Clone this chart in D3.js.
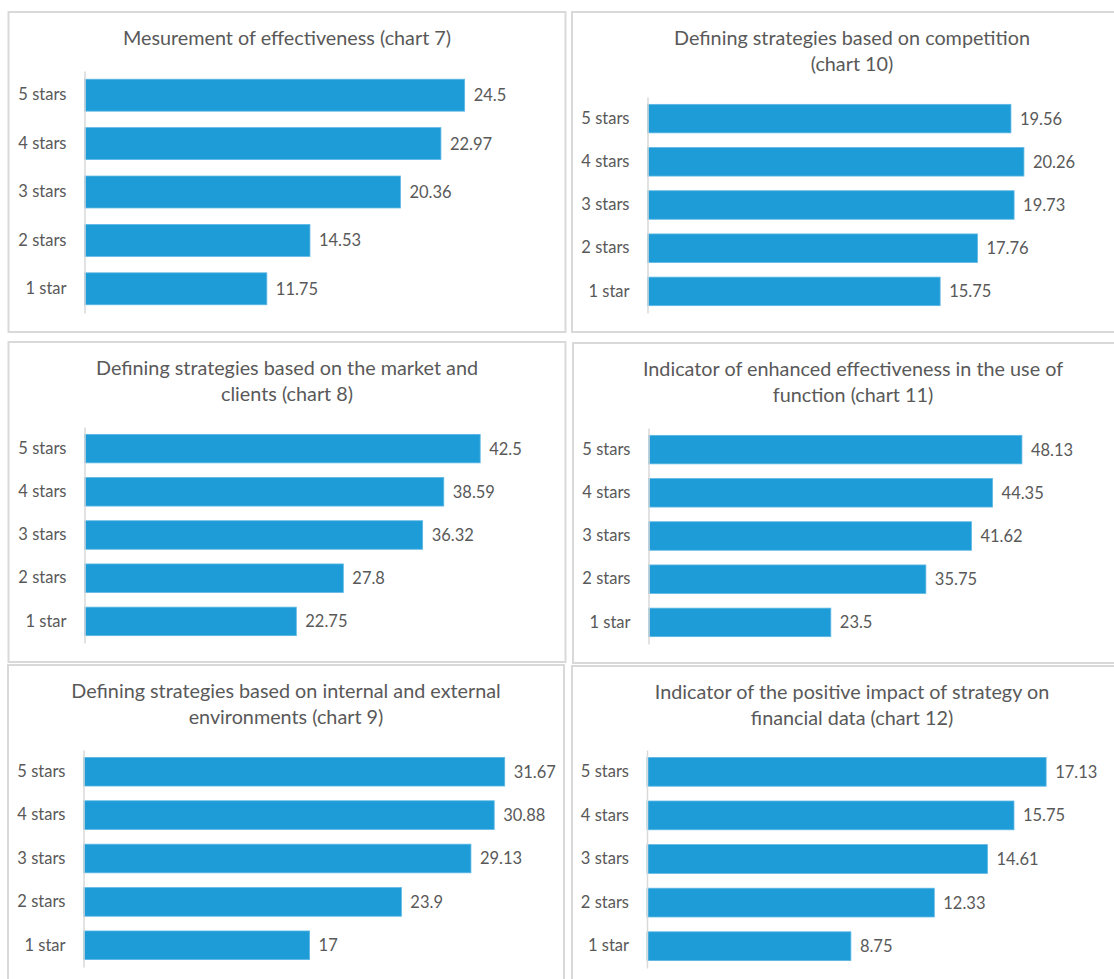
<!DOCTYPE html>
<html>
<head>
<meta charset="utf-8">
<script src="https://cdn.jsdelivr.net/npm/d3@7"></script>
<style>
  html, body { margin: 0; padding: 0; background: #ffffff; }
  svg { display: block; font-family: Lato, "Open Sans", sans-serif; }
</style>
</head>
<body>
<svg id="chart" width="1114" height="979"></svg>
<script>
// ---- data ----
const categories = ["5 stars", "4 stars", "3 stars", "2 stars", "1 star"];

const titleChart7  = ["Mesurement of effectiveness (chart 7)"];
const titleChart10 = ["Defining strategies based on competition", "(chart 10)"];
const titleChart8  = ["Defining strategies based on the market and", "clients (chart 8)"];
const titleChart11 = ["Indicator of enhanced effectiveness in the use of", "function (chart 11)"];
const titleChart9  = ["Defining strategies based on internal and external", "environments (chart 9)"];
const titleChart12 = ["Indicator of the positive impact of strategy on", "financial data (chart 12)"];

const valuesChart7  = [24.5, 22.97, 20.36, 14.53, 11.75];
const valuesChart10 = [19.56, 20.26, 19.73, 17.76, 15.75];
const valuesChart8  = [42.5, 38.59, 36.32, 27.8, 22.75];
const valuesChart11 = [48.13, 44.35, 41.62, 35.75, 23.5];
const valuesChart9  = [31.67, 30.88, 29.13, 23.9, 17];
const valuesChart12 = [17.13, 15.75, 14.61, 12.33, 8.75];

// hidden value-axis maxima (Excel auto scale)
const axisMaxima = [30, 25, 50, 60, 35, 20];

// ---- layout (kept apart from the data) ----
const panels = [
  { title: titleChart7,  values: valuesChart7,  max: axisMaxima[0], x: 8.5, y: 12,  w: 557, h: 320, axisX: 84.5,  plotRight: 550,  yTop: 71,  yBot: 313 },
  { title: titleChart10, values: valuesChart10, max: axisMaxima[1], x: 572, y: 12,  w: 560, h: 320, axisX: 647.5, plotRight: 1112, yTop: 97,  yBot: 313 },
  { title: titleChart8,  values: valuesChart8,  max: axisMaxima[2], x: 8.5, y: 342, w: 557, h: 320, axisX: 84.5,  plotRight: 550,  yTop: 427, yBot: 643 },
  { title: titleChart11, values: valuesChart11, max: axisMaxima[3], x: 573, y: 343, w: 560, h: 320, axisX: 648.5, plotRight: 1114, yTop: 428, yBot: 644 },
  { title: titleChart9,  values: valuesChart9,  max: axisMaxima[4], x: 8,   y: 665, w: 556, h: 340, axisX: 83.5,  plotRight: 549,  yTop: 750, yBot: 967 },
  { title: titleChart12, values: valuesChart12, max: axisMaxima[5], x: 572, y: 666, w: 560, h: 340, axisX: 647,   plotRight: 1113, yTop: 750, yBot: 968 }
];

const textColor = "#595959";
const barColor = "#1e9cd7";

const svg = d3.select("#chart");

panels.forEach(p => {
  const g = svg.append("g");

  // frame
  g.append("rect")
    .attr("x", p.x).attr("y", p.y)
    .attr("width", p.w).attr("height", p.h)
    .attr("fill", "#ffffff")
    .attr("stroke", "#d9d9d9")
    .attr("stroke-width", 2);

  // title
  const t = g.append("text")
    .attr("text-anchor", "middle")
    .attr("fill", textColor)
    .attr("font-size", 19.8);
  p.title.forEach((line, i) => {
    t.append("tspan")
      .attr("x", p.x + p.w / 2)
      .attr("y", p.y + 33 + i * 26)
      .text(line);
  });

  // scales
  const y = d3.scaleBand()
    .domain(categories)
    .range([p.yTop, p.yBot])
    .paddingInner(0.34)
    .paddingOuter(0.17);

  const x = d3.scaleLinear()
    .domain([0, p.max])
    .range([p.axisX, p.plotRight]);

  // bars
  g.selectAll("rect.bar")
    .data(p.values)
    .join("rect")
    .attr("class", "bar")
    .attr("x", x(0))
    .attr("y", (d, i) => y(categories[i]))
    .attr("width", d => x(d) - x(0))
    .attr("height", y.bandwidth())
    .attr("fill", barColor)
    .attr("stroke", "#5db7e4")
    .attr("stroke-width", 0.8);

  // value labels
  g.selectAll("text.val")
    .data(p.values)
    .join("text")
    .attr("class", "val")
    .attr("x", d => x(d) + 9)
    .attr("y", (d, i) => y(categories[i]) + y.bandwidth() / 2)
    .attr("dy", "0.36em")
    .attr("fill", textColor)
    .attr("font-size", 16.5)
    .text(d => String(d));

  // category axis
  const axis = g.append("g")
    .attr("transform", `translate(${p.axisX},0)`)
    .call(d3.axisLeft(y).tickSize(0).tickSizeOuter(0).tickPadding(18));
  axis.select(".domain")
    .attr("stroke", "#d9d9d9")
    .attr("stroke-width", 1.5);
  axis.selectAll(".tick text")
    .attr("fill", textColor)
    .attr("font-size", 16.5)
    .attr("font-family", "Lato, 'Open Sans', sans-serif");
});
</script>
</body>
</html>
